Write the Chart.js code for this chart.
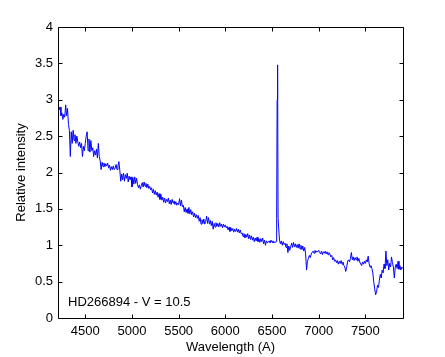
<!DOCTYPE html>
<html>
<head>
<meta charset="utf-8">
<script src="https://cdn.jsdelivr.net/npm/chart.js@4/dist/chart.umd.min.js"></script>
<style>
html,body{margin:0;padding:0;background:#fff;}
canvas{display:block;}
</style>
</head>
<body>
<canvas id="c" width="445" height="357"></canvas>
<script>
// Wavelength samples (Angstrom)
const wavelengths = [
4210,4220,4230,4240,4250,4260,4270,4280,4290,4300,
4310,4320,4330,4340,4350,4360,4370,4380,4390,4400,
4410,4420,4430,4440,4450,4460,4470,4480,4490,4500,
4510,4520,4530,4540,4550,4560,4570,4580,4590,4600,
4610,4620,4630,4640,4650,4660,4670,4680,4690,4700,
4710,4720,4730,4740,4750,4760,4770,4780,4790,4800,
4810,4820,4830,4840,4850,4860,4870,4880,4890,4900,
4910,4920,4930,4940,4950,4960,4970,4980,4990,5000,
5010,5020,5030,5040,5050,5060,5070,5080,5090,5100,
5110,5120,5130,5140,5150,5160,5170,5180,5190,5200,
5210,5220,5230,5240,5250,5260,5270,5280,5290,5300,
5310,5320,5330,5340,5350,5360,5370,5380,5390,5400,
5410,5420,5430,5440,5450,5460,5470,5480,5490,5500,
5510,5520,5530,5540,5550,5560,5570,5580,5590,5600,
5610,5620,5630,5640,5650,5660,5670,5680,5690,5700,
5710,5720,5730,5740,5750,5760,5770,5780,5790,5800,
5810,5820,5830,5840,5850,5860,5870,5880,5890,5900,
5910,5920,5930,5940,5950,5960,5970,5980,5990,6000,
6010,6020,6030,6040,6050,6060,6070,6080,6090,6100,
6110,6120,6130,6140,6150,6160,6170,6180,6190,6200,
6210,6220,6230,6240,6250,6260,6270,6280,6290,6300,
6310,6320,6330,6340,6350,6360,6370,6380,6390,6400,
6410,6420,6430,6440,6450,6460,6470,6480,6490,6500,
6510,6520,6530,6540,6545,6550,6555,6560,6565,6570,6580,
6590,6600,6610,6620,6630,6640,6650,6660,6670,6680,
6690,6700,6710,6720,6730,6740,6750,6760,6770,6780,
6790,6800,6810,6820,6830,6840,6850,6860,6870,6880,
6890,6900,6910,6920,6930,6940,6950,6960,6970,6980,
6990,7000,7010,7020,7030,7040,7050,7060,7070,7080,
7090,7100,7110,7120,7130,7140,7150,7160,7170,7180,
7190,7200,7210,7220,7230,7240,7250,7260,7270,7280,
7290,7300,7310,7320,7330,7340,7350,7360,7370,7380,
7390,7400,7410,7420,7430,7440,7450,7460,7470,7480,
7490,7500,7510,7520,7530,7540,7550,7560,7570,7580,
7590,7600,7610,7620,7630,7640,7650,7660,7670,7680,
7690,7700,7710,7720,7730,7740,7750,7760,7770,7780,
7790,7800,7810,7820,7830,7840,7850,7860,7870,7880,
7890,7900
];
// Relative intensity
const intensity = [
2.95,2.86,2.90,2.78,2.82,2.73,2.80,2.76,2.93,2.78,
2.88,2.66,2.58,2.22,2.56,2.40,2.58,2.44,2.52,2.40,
2.50,2.42,2.36,2.42,2.34,2.40,2.22,2.36,2.30,2.40,
2.50,2.56,2.30,2.46,2.28,2.44,2.30,2.34,2.22,2.30,
2.24,2.32,2.20,2.40,2.22,2.16,2.04,2.14,2.08,2.13,
2.08,2.12,2.09,2.13,2.06,2.10,2.03,2.08,2.04,2.09,
2.04,2.06,2.11,2.04,2.09,2.15,2.03,1.88,1.98,1.90,
1.99,1.88,1.97,1.92,1.99,1.87,1.95,1.90,1.94,1.80,
1.93,1.84,1.94,1.85,1.92,1.83,1.79,1.83,1.77,1.82,
1.86,1.80,1.87,1.81,1.85,1.79,1.84,1.78,1.81,1.76,
1.79,1.72,1.77,1.70,1.75,1.69,1.73,1.66,1.71,1.63,
1.70,1.62,1.66,1.59,1.65,1.58,1.63,1.60,1.65,1.57,
1.62,1.56,1.63,1.58,1.61,1.56,1.60,1.55,1.58,1.56,
1.64,1.54,1.62,1.53,1.55,1.46,1.52,1.45,1.50,1.44,
1.52,1.43,1.49,1.42,1.46,1.39,1.44,1.38,1.42,1.37,
1.41,1.33,1.38,1.29,1.35,1.30,1.36,1.29,1.33,1.40,
1.30,1.38,1.29,1.34,1.27,1.33,1.22,1.30,1.25,1.31,
1.26,1.30,1.25,1.31,1.26,1.29,1.24,1.29,1.25,1.28,
1.24,1.26,1.21,1.25,1.19,1.24,1.20,1.23,1.18,1.22,
1.19,1.23,1.18,1.22,1.17,1.21,1.16,1.17,1.12,1.16,
1.10,1.15,1.11,1.16,1.09,1.14,1.08,1.13,1.07,1.11,
1.05,1.10,1.06,1.11,1.05,1.09,1.04,1.09,1.05,1.10,
1.02,1.07,1.00,1.06,1.03,1.05,1.06,1.03,1.07,1.04,
1.06,1.03,1.05,1.04,1.05,1.37,3.00,3.48,1.37,1.37,1.07,
1.02,1.06,1.00,1.05,1.01,1.03,0.97,1.02,0.90,0.99,
0.93,0.98,1.03,0.97,1.04,0.98,1.02,0.97,1.01,0.96,
1.02,0.95,1.00,0.94,0.99,0.92,0.97,0.88,0.66,0.78,
0.82,0.86,0.83,0.88,0.90,0.92,0.89,0.93,0.90,0.92,
0.91,0.93,0.90,0.88,0.92,0.87,0.91,0.89,0.92,0.88,
0.91,0.87,0.90,0.88,0.84,0.86,0.80,0.83,0.78,0.80,
0.76,0.79,0.74,0.78,0.75,0.79,0.74,0.77,0.72,0.70,
0.64,0.70,0.78,0.80,0.77,0.82,0.90,0.80,0.84,0.79,
0.83,0.80,0.84,0.78,0.82,0.77,0.74,0.72,0.77,0.74,
0.78,0.75,0.80,0.77,0.85,0.75,0.70,0.72,0.68,0.62,
0.49,0.40,0.32,0.36,0.45,0.42,0.52,0.60,0.55,0.66,
0.62,0.74,0.68,0.92,0.72,0.80,0.66,0.75,0.70,0.84,
0.76,0.70,0.55,0.70,0.74,0.68,0.78,0.67,0.72,0.66,
0.70,0.68
];
const xTickValues = [4500,5000,5500,6000,6500,7000,7500];
const yTickValues = [0,0.5,1,1.5,2,2.5,3,3.5,4];
const yTickLabels = ["0","0.5","1","1.5","2","2.5","3","3.5","4"];
const xLabel = "Wavelength (A)";
const yLabel = "Relative intensity";
const annotation = "HD266894 - V = 10.5";

const FONT = {family: "'Liberation Sans', Arial, Helvetica, sans-serif", size: 13};

const framePlugin = {
  id: 'frame',
  afterDraw(chart) {
    const {ctx, chartArea: a, scales} = chart;
    const L = Math.round(a.left) + 0.5, R = Math.round(a.right) + 0.5;
    const T = Math.round(a.top) + 0.5, B = Math.round(a.bottom) + 0.5;
    const tl = 4;
    ctx.save();
    ctx.strokeStyle = '#000';
    ctx.lineWidth = 1;
    ctx.beginPath();
    ctx.rect(L, T, R - L, B - T);
    scales.x.ticks.forEach(t => {
      const px = Math.round(scales.x.getPixelForValue(t.value)) + 0.5;
      ctx.moveTo(px, B); ctx.lineTo(px, B - tl);
      ctx.moveTo(px, T); ctx.lineTo(px, T + tl);
    });
    scales.y.ticks.forEach(t => {
      const py = Math.round(scales.y.getPixelForValue(t.value)) + 0.5;
      ctx.moveTo(L, py); ctx.lineTo(L + tl, py);
      ctx.moveTo(R, py); ctx.lineTo(R - tl, py);
    });
    ctx.stroke();
    ctx.fillStyle = '#000';
    ctx.font = FONT.size + 'px ' + FONT.family;
    ctx.textBaseline = 'middle';
    ctx.textAlign = 'left';
    ctx.fillText(annotation, 68, 302);
    ctx.restore();
  }
};

new Chart(document.getElementById('c'), {
  type: 'line',
  data: {
    datasets: [{
      data: wavelengths.map((w, i) => ({x: w, y: intensity[i]})),
      borderColor: '#0000ff',
      borderWidth: 1,
      pointRadius: 0,
      tension: 0,
      fill: false
    }]
  },
  options: {
    responsive: false,
    animation: false,
    devicePixelRatio: 1,
    layout: {padding: {left: 0, top: 27, right: 42, bottom: 0}},
    plugins: {legend: {display: false}, tooltip: {enabled: false}},
    scales: {
      x: {
        type: 'linear',
        min: 4208,
        max: 7903,
        grid: {display: false, drawTicks: false},
        border: {display: false},
        afterBuildTicks: s => { s.ticks = xTickValues.map(v => ({value: v})); },
        afterFit: s => { s.height = 39; },
        ticks: {color: '#000', font: FONT, padding: 6, maxRotation: 0, autoSkip: false,
                callback: v => String(v)},
        title: {display: true, text: xLabel, color: '#000', font: FONT, padding: {top: 0, bottom: 2}}
      },
      y: {
        type: 'linear',
        min: 0,
        max: 4,
        grid: {display: false, drawTicks: false},
        border: {display: false},
        afterBuildTicks: s => { s.ticks = yTickValues.map(v => ({value: v})); },
        afterFit: s => { s.width = 58; },
        ticks: {color: '#000', font: FONT, padding: 5, autoSkip: false,
                callback: v => yTickLabels[yTickValues.indexOf(v)]},
        title: {display: true, text: yLabel, color: '#000', font: FONT, padding: {top: 14, bottom: 0}}
      }
    }
  },
  plugins: [framePlugin]
});
</script>
</body>
</html>
